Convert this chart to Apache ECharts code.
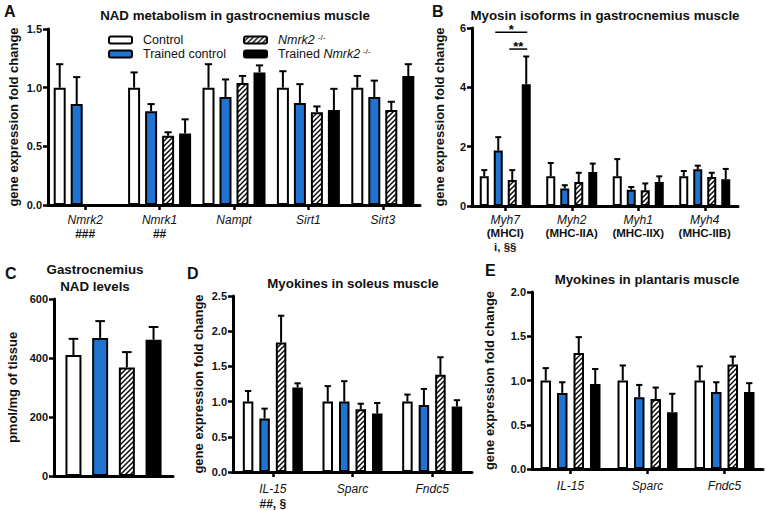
<!DOCTYPE html>
<html>
<head>
<meta charset="utf-8">
<script src="https://cdn.jsdelivr.net/npm/echarts@6.0.0/dist/echarts.min.js"></script>
<style>
html,body{margin:0;padding:0;background:#fff;}
#chart{width:766px;height:510px;}
</style>
</head>
<body>
<div id="chart"></div>
<script>
// ---------------- DATA ----------------
var groupNames = ['Control', 'Trained control', 'Nmrk2 -/-', 'Trained Nmrk2 -/-'];

// Panel A: NAD metabolism in gastrocnemius muscle (mean and top of SEM bar)
var catsA = ['Nmrk2', 'Nmrk1', 'Nampt', 'Sirt1', 'Sirt3'];
var notesA = ['###', '##', '', '', ''];
var meanA_control   = [1.00, 1.00, 1.00, 1.00, 1.00];
var meanA_trained   = [0.86, 0.80, 0.92, 0.87, 0.92];
var meanA_ko        = [0.00, 0.59, 1.04, 0.79, 0.81];
var meanA_trainedKo = [0.00, 0.61, 1.13, 0.81, 1.10];
var errA_control    = [1.20, 1.13, 1.20, 1.14, 1.10];
var errA_trained    = [1.09, 0.86, 1.07, 1.03, 1.06];
var errA_ko         = [0.00, 0.62, 1.10, 0.84, 0.88];
var errA_trainedKo  = [0.00, 0.73, 1.19, 0.99, 1.20];
var ticksA = [0, 0.5, 1.0, 1.5];

// Panel B: Myosin isoforms in gastrocnemius muscle
var catsB = ['Myh7', 'Myh2', 'Myh1', 'Myh4'];
var subB = ['(MHCI)', '(MHC-IIA)', '(MHC-IIX)', '(MHC-IIB)'];
var notesB = ['i, §§', '', '', ''];
var meanB_control   = [1.00, 1.00, 1.00, 1.00];
var meanB_trained   = [1.87, 0.59, 0.55, 1.24];
var meanB_ko        = [0.88, 0.81, 0.53, 0.98];
var meanB_trainedKo = [4.10, 1.15, 0.81, 0.90];
var errB_control    = [1.21, 1.45, 1.58, 1.18];
var errB_trained    = [2.32, 0.70, 0.64, 1.36];
var errB_ko         = [1.21, 1.12, 0.76, 1.12];
var errB_trainedKo  = [5.04, 1.43, 1.00, 1.25];
var sigB_from  = [1, 2];
var sigB_to    = [3, 3];
var sigB_level = [5.86, 5.29];
var sigB_text  = ['*', '**'];
var ticksB = [0, 2, 4, 6];

// Panel C: Gastrocnemius NAD levels (pmol/mg of tissue)
var catsC = ['NAD'];
var meanC_control   = [410];
var meanC_trained   = [468];
var meanC_ko        = [368];
var meanC_trainedKo = [462];
var errC_control    = [465];
var errC_trained    = [525];
var errC_ko         = [420];
var errC_trainedKo  = [505];
var ticksC = [0, 200, 400, 600];

// Panel D: Myokines in soleus muscle
var catsD = ['IL-15', 'Sparc', 'Fndc5'];
var notesD = ['##, §', '', ''];
var meanD_control   = [1.00, 1.00, 1.00];
var meanD_trained   = [0.76, 1.00, 0.95];
var meanD_ko        = [1.84, 0.89, 1.38];
var meanD_trainedKo = [1.20, 0.83, 0.93];
var errD_control    = [1.15, 1.22, 1.10];
var errD_trained    = [0.90, 1.29, 1.18];
var errD_ko         = [2.22, 0.97, 1.63];
var errD_trainedKo  = [1.26, 0.98, 1.02];
var ticksD = [0, 0.5, 1.0, 1.5, 2.0, 2.5];

// Panel E: Myokines in plantaris muscle
var catsE = ['IL-15', 'Sparc', 'Fndc5'];
var meanE_control   = [1.00, 1.00, 1.00];
var meanE_trained   = [0.86, 0.81, 0.87];
var meanE_ko        = [1.31, 0.79, 1.18];
var meanE_trainedKo = [0.96, 0.64, 0.87];
var errE_control    = [1.14, 1.17, 1.16];
var errE_trained    = [0.98, 0.95, 0.98];
var errE_ko         = [1.49, 0.92, 1.27];
var errE_trainedKo  = [1.13, 0.85, 0.97];
var ticksE = [0, 0.5, 1.0, 1.5, 2.0];

// ---------------- STYLE ----------------
var FONT = '"Liberation Sans", Arial, Helvetica, sans-serif';
var BLUE = '#1f74d2';

function hatchURL() {
  var s = 5;
  var c = document.createElement('canvas');
  c.width = s; c.height = s;
  var x = c.getContext('2d');
  x.fillStyle = '#fff'; x.fillRect(0, 0, s, s);
  x.strokeStyle = '#000'; x.lineWidth = 1.4;
  x.beginPath();
  x.moveTo(-1, s + 1); x.lineTo(s + 1, -1);
  x.moveTo(-1, 1); x.lineTo(1, -1);
  x.moveTo(s - 1, s + 1); x.lineTo(s + 1, s - 1);
  x.stroke();
  return c.toDataURL();
}
var HATCH = { image: hatchURL(), repeat: 'repeat' };

var barStyles = [
  { color: '#fff', borderColor: '#000', borderWidth: 2 },
  { color: BLUE, borderColor: '#000', borderWidth: 2 },
  { color: HATCH, borderColor: '#000', borderWidth: 2 },
  { color: '#000', borderColor: '#000', borderWidth: 2 }
];

var grids = [
  { left: 48, top: 29, width: 372, height: 176 },
  { left: 472, top: 28, width: 266, height: 178 },
  { left: 54, top: 299, width: 119, height: 177 },
  { left: 233, top: 296, width: 239, height: 176 },
  { left: 532, top: 292, width: 231, height: 177 }
];

var series = [];
var xAxes = [];
var yAxes = [];

function errRender(bw, gap, cap) {
  return function (params, api) {
    var cat = api.value(0), v = api.value(1), e = api.value(2), g = api.value(3);
    var base = api.coord([cat, v]);
    var top = api.coord([cat, e]);
    var total = 4 * bw + 3 * gap;
    var x = base[0] - total / 2 + bw / 2 + g * (bw + gap);
    return {
      type: 'group',
      children: [
        { type: 'line', shape: { x1: x, y1: base[1], x2: x, y2: top[1] }, style: { stroke: '#000', lineWidth: 2 } },
        { type: 'line', shape: { x1: x - cap / 2, y1: top[1], x2: x + cap / 2, y2: top[1] }, style: { stroke: '#000', lineWidth: 2 } }
      ]
    };
  };
}

function addPanel(idx, cats, means, errs, bw, gap, yMin, yMax, interval, yName, nameGap, xLabel, showXTick) {
  xLabel.interval = 0;
  xAxes.push({
    type: 'category', gridIndex: idx, data: cats,
    axisLine: { lineStyle: { color: '#000', width: 3 } },
    axisTick: { show: showXTick, interval: 0, alignWithLabel: true, length: 5, lineStyle: { color: '#000', width: 2.5 } },
    axisLabel: xLabel
  });
  yAxes.push({
    type: 'value', gridIndex: idx, min: yMin, max: yMax, interval: interval,
    name: yName, nameLocation: 'middle', nameGap: nameGap,
    nameTextStyle: { fontFamily: FONT, fontWeight: 'bold', fontSize: 13, color: '#111' },
    axisLine: { show: true, lineStyle: { color: '#000', width: 3 } },
    axisTick: { show: true, length: 5, lineStyle: { color: '#000', width: 2.5 } },
    splitLine: { show: false },
    axisLabel: {
      margin: 6, fontFamily: FONT, fontWeight: 'bold', fontSize: 11, color: '#111',
      formatter: function (v) { return interval < 1 ? v.toFixed(1) : String(v); }
    }
  });
  for (var g = 0; g < 4; g++) {
    series.push({
      type: 'bar', name: groupNames[g], xAxisIndex: idx, yAxisIndex: idx,
      data: means[g], barWidth: bw, barGap: (gap / bw * 100) + '%',
      itemStyle: barStyles[g], z: 3, silent: true
    });
  }
  var ed = [];
  for (var c = 0; c < cats.length; c++) {
    for (var g2 = 0; g2 < 4; g2++) {
      if (errs[g2][c] > means[g2][c]) ed.push([c, means[g2][c], errs[g2][c], g2]);
    }
  }
  series.push({
    type: 'custom', xAxisIndex: idx, yAxisIndex: idx, z: 2, silent: true,
    renderItem: errRender(bw, gap, Math.max(6, bw * 0.6)),
    encode: { x: 0, y: [1, 2] }, data: ed
  });
}

function richI(lh) { return { fontFamily: FONT, fontStyle: 'italic', fontSize: 12, lineHeight: lh, color: '#111' }; }
function richB(lh, fs) { return { fontFamily: FONT, fontWeight: 'bold', fontSize: fs || 12, lineHeight: lh, color: '#111' }; }

// Panel A
addPanel(0, catsA,
  [meanA_control, meanA_trained, meanA_ko, meanA_trainedKo],
  [errA_control, errA_trained, errA_ko, errA_trainedKo],
  12, 5, ticksA[0], ticksA[ticksA.length - 1], 0.5,
  'gene expression fold change', 28,
  { margin: 8, rich: { i: richI(14), b: richB(14) }, formatter: function (v, i) { return '{i|' + v + '}' + (notesA[i] ? '\n{b|' + notesA[i] + '}' : ''); } },
  true);

// Panel B
addPanel(1, catsB,
  [meanB_control, meanB_trained, meanB_ko, meanB_trainedKo],
  [errB_control, errB_trained, errB_ko, errB_trainedKo],
  9, 5, ticksB[0], ticksB[ticksB.length - 1], 2,
  'gene expression fold change', 26,
  { margin: 7, rich: { i: richI(13.5), b: richB(13.5, 11.5) },
    formatter: function (v, i) { return '{i|' + v + '}\n{b|' + subB[i] + '}' + (notesB[i] ? '\n{b|' + notesB[i] + '}' : ''); } },
  true);

// Panel C
addPanel(2, catsC,
  [meanC_control, meanC_trained, meanC_ko, meanC_trainedKo],
  [errC_control, errC_trained, errC_ko, errC_trainedKo],
  16, 10.7, ticksC[0], ticksC[ticksC.length - 1], 200,
  'pmol/mg of tissue', 35,
  { show: false },
  false);

// Panel D
addPanel(3, catsD,
  [meanD_control, meanD_trained, meanD_ko, meanD_trainedKo],
  [errD_control, errD_trained, errD_ko, errD_trainedKo],
  10.5, 6, ticksD[0], ticksD[ticksD.length - 1], 0.5,
  'gene expression fold change', 28,
  { margin: 10, rich: { i: richI(14), b: richB(15) },
    formatter: function (v, i) { return '{i|' + v + '}' + (notesD[i] ? '\n{b|' + notesD[i] + '}' : ''); } },
  true);

// Panel E
addPanel(4, catsE,
  [meanE_control, meanE_trained, meanE_ko, meanE_trainedKo],
  [errE_control, errE_trained, errE_ko, errE_trainedKo],
  10.5, 6, ticksE[0], ticksE[ticksE.length - 1], 0.5,
  'gene expression fold change', 36,
  { margin: 10, rich: { i: richI(14) }, formatter: function (v) { return '{i|' + v + '}'; } },
  true);

// significance brackets in panel B
var sigData = [];
for (var k = 0; k < sigB_text.length; k++) sigData.push([0, sigB_level[k], sigB_from[k], sigB_to[k], sigB_text[k]]);
series.push({
  type: 'custom', xAxisIndex: 1, yAxisIndex: 1, z: 4, silent: true,
  encode: { x: 0, y: 1 },
  data: sigData,
  renderItem: function (params, api) {
    var bw = 9, gap = 5, total = 4 * bw + 3 * gap;
    var p = api.coord([api.value(0), api.value(1)]);
    var a = api.value(2), b = api.value(3);
    var x1 = p[0] - total / 2 + bw / 2 + a * (bw + gap) - 3;
    var x2 = p[0] - total / 2 + bw / 2 + b * (bw + gap) + 1;
    var t = sigData[params.dataIndex][4];
    return {
      type: 'group',
      children: [
        { type: 'line', shape: { x1: x1, y1: p[1], x2: x2, y2: p[1] }, style: { stroke: '#000', lineWidth: 1.5 } },
        { type: 'text', x: (x1 + x2) / 2, y: p[1] + 4,
          style: { text: t, font: 'bold 13px ' + FONT, fill: '#000', align: 'center', verticalAlign: 'bottom' } }
      ]
    };
  }
});

function label(text, x, y, size, align) {
  return { type: 'text', x: x, y: y, silent: true,
    style: { text: text, font: 'bold ' + size + 'px ' + FONT, fill: '#111',
             textAlign: align || 'center', textVerticalAlign: 'middle',
             align: align || 'center', verticalAlign: 'middle' } };
}

var legendRich = {
  i: { fontFamily: FONT, fontStyle: 'italic', fontSize: 12.5, lineHeight: 14, color: '#111' },
  s: { fontFamily: FONT, fontSize: 8, lineHeight: 14, color: '#111', verticalAlign: 'top', padding: [0, 0, 0, 3] },
  n: { fontFamily: FONT, fontSize: 12.5, lineHeight: 14, color: '#111' }
};
function legendFmt(name) {
  if (name === 'Nmrk2 -/-') return '{i|Nmrk2}{s|-/-}';
  if (name === 'Trained Nmrk2 -/-') return '{n|Trained }{i|Nmrk2}{s|-/-}';
  return '{n|' + name + '}';
}
function legendCfg(names, left) {
  return { data: names, orient: 'vertical', left: left, top: 33, padding: 0, itemGap: 0,
    itemWidth: 23, itemHeight: 7, selectedMode: false, formatter: legendFmt,
    itemStyle: { borderColor: '#000', borderWidth: 2 },
    textStyle: { fontFamily: FONT, fontSize: 12.5, lineHeight: 14, color: '#111', padding: [0, 0, 0, 6], rich: legendRich } };
}

var option = {
  animation: false,
  backgroundColor: '#fff',
  grid: grids,
  xAxis: xAxes,
  yAxis: yAxes,
  legend: [legendCfg(groupNames.slice(0, 2), 108), legendCfg(groupNames.slice(2, 4), 243)],
  graphic: [
    label('NAD metabolism in gastrocnemius muscle', 235, 15, 13.3),
    label('Myosin isoforms in gastrocnemius muscle', 605, 15, 13.3),
    label('Gastrocnemius', 95, 269, 13.3),
    label('NAD levels', 95, 286, 13.3),
    label('Myokines in soleus muscle', 353, 283, 13.3),
    label('Myokines in plantaris muscle', 647, 279, 13.3),
    label('A', 4, 11, 16, 'left'),
    label('B', 432, 11, 16, 'left'),
    label('C', 5, 273, 16, 'left'),
    label('D', 187, 273, 16, 'left'),
    label('E', 485, 270, 16, 'left')
  ],
  series: series
};

var chart = echarts.init(document.getElementById('chart'), null, { renderer: 'svg', width: 766, height: 510 });
chart.setOption(option);
</script>
</body>
</html>
